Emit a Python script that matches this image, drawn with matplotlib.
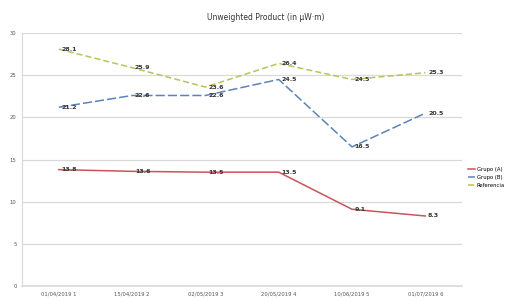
import matplotlib
matplotlib.use("Agg")
import matplotlib.pyplot as plt

# categorias del eje X y valores de cada serie
categorias = ["01/04/2019 1", "15/04/2019 2", "02/05/2019 3", "20/05/2019 4", "10/06/2019 5", "01/07/2019 6"]
grupo_a = [13.8, 13.6, 13.5, 13.5, 9.1, 8.3]
grupo_b = [21.2, 22.6, 22.6, 24.5, 16.5, 20.5]
referencia = [28.1, 25.9, 23.6, 26.4, 24.5, 25.3]
y_ticks = [0, 5, 10, 15, 20, 25, 30]

fig = plt.figure(figsize=(5.15, 3.01), dpi=100)
ax = fig.add_axes([0.043, 0.05, 0.854, 0.84])

x = list(range(len(categorias)))
series = [
    (grupo_a, "Grupo (A)", "#c9545a", "-"),
    (grupo_b, "Grupo (B)", "#5a84b8", (0, (6, 2))),
    (referencia, "Referencia", "#b9c455", (0, (4, 2))),
]
for valores, nombre, color, estilo in series:
    ax.plot(x, valores, color=color, linestyle=estilo, linewidth=1.1, label=nombre)
    for xi, v in zip(x, valores):
        ax.annotate(f"{v:.1f}", (xi, v), xytext=(2, 0), textcoords="offset points",
                    ha="left", va="center", fontsize=4.5, fontweight="bold", color="#333333")

ax.set_xlim(-0.5, len(categorias) - 0.5)
ax.set_ylim(0, 30)
ax.set_yticks(y_ticks)
ax.set_xticks(x)
ax.set_xticklabels(categorias, fontsize=3.8, color="#555555")
ax.tick_params(axis="y", labelsize=3.8, colors="#555555", length=0, pad=4)
ax.tick_params(axis="x", length=0, pad=4)
ax.grid(axis="y", color="#d9d9d9", linewidth=0.9)
ax.set_axisbelow(True)
for lado in ["top", "right"]:
    ax.spines[lado].set_visible(False)
ax.spines["left"].set_color("#d9d9d9")
ax.spines["bottom"].set_color("#d9d9d9")
ax.spines["bottom"].set_linewidth(1.2)

fig.text(0.516, 0.943, "Unweighted Product (in \u03bcW\u00b7m)", ha="center", va="center",
         fontsize=5.5, color="#333333")

ax.legend(loc="center left", bbox_to_anchor=(1.01, 0.43), fontsize=3.8, frameon=False,
          handlelength=1.2, handletextpad=0.4, labelspacing=0.6, borderaxespad=0)

fig.savefig("out.png", dpi=100)
